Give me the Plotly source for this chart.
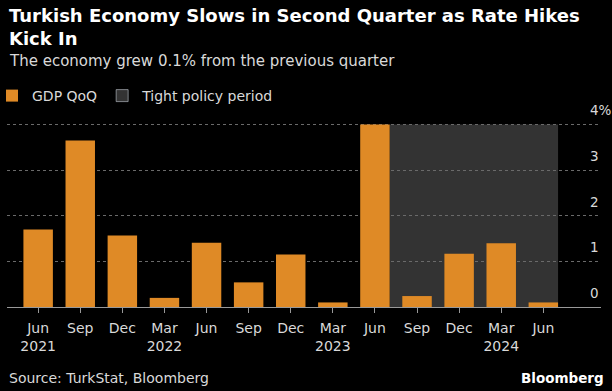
import plotly.graph_objects as go

quarters = ["Jun<br>2021", "Sep", "Dec", "Mar<br>2022", "Jun", "Sep", "Dec",
            "Mar<br>2023", "Jun", "Sep", "Dec", "Mar<br>2024", "Jun"]
gdp_qoq = [1.7, 3.65, 1.57, 0.2, 1.41, 0.54, 1.15, 0.1, 4.0, 0.24, 1.17, 1.4, 0.1]
tight_start_idx = 8.35
tight_end_idx = 12.35
y_ticks = [0, 1, 2, 3, 4]
y_ticktext = ["0", "1", "2", "3", "4%"]

W, H = 612, 391
ML, MR, MT, MB = 7, 11, 120, 84
PH = H - MT - MB
PW = W - ML - MR

def py(p):
    return (H - MB - p) / PH

def px(p):
    return (p - ML) / PW

FONT = "DejaVu Sans"
ORANGE = "#DF8A26"
GRAY_SHADE = "#333333"
TXT = "#d9d9d9"

x = list(range(len(quarters)))

fig = go.Figure()
fig.add_trace(go.Bar(x=x, y=gdp_qoq, name="GDP QoQ", marker=dict(color=ORANGE, line=dict(width=0)),
                     width=0.7))
fig.add_trace(go.Bar(x=[None], y=[None], name="Tight policy period",
                     marker=dict(color=GRAY_SHADE)))

fig.add_shape(type="rect", xref="x", yref="y", x0=tight_start_idx, x1=tight_end_idx,
              y0=0, y1=4, fillcolor=GRAY_SHADE, line=dict(width=0), layer="below")

fig.update_layout(
    width=W, height=H,
    paper_bgcolor="black", plot_bgcolor="black",
    margin=dict(l=ML, r=MR, t=MT, b=MB, autoexpand=False),
    font=dict(family=FONT, color=TXT, size=13),
    showlegend=True,
    legend=dict(orientation="h", x=px(-8), y=py(80), xanchor="left", yanchor="top",
                font=dict(size=14, color=TXT), bgcolor="rgba(0,0,0,0)",
                itemwidth=30, traceorder="normal"),
    bargap=0.3,
    xaxis=dict(range=[-0.74, 13.37], tickmode="array", tickvals=x, ticktext=quarters,
               showgrid=False, zeroline=False, showline=True, linecolor="#999999", linewidth=1,
               ticks="outside", ticklen=5, tickcolor="#999999", tickwidth=1, automargin=False,
               ticklabelstandoff=3,
               tickfont=dict(size=14, color=TXT), fixedrange=True),
    yaxis=dict(range=[0, 4.1], side="right", tickmode="array", tickvals=y_ticks,
               ticktext=y_ticktext, showgrid=True, gridcolor="#6a6a6a", griddash="dot",
               gridwidth=1, zeroline=False, showline=False, ticks="", automargin=False,
               ticklabelposition="outside", ticklabelstandoff=-12, ticklabelshift=-14,
               tickfont=dict(size=13.5, color=TXT), fixedrange=True),
)

fig.add_annotation(text="<b>Turkish Economy Slows in Second Quarter as Rate Hikes<br>Kick In</b>",
                   xref="paper", yref="paper", x=px(7), y=py(3), xanchor="left", yanchor="top",
                   align="left", showarrow=False, font=dict(size=18, color="white", family=FONT))
fig.add_annotation(text="The economy grew 0.1% from the previous quarter",
                   xref="paper", yref="paper", x=px(7), y=py(50), xanchor="left", yanchor="top",
                   align="left", showarrow=False, font=dict(size=15, color=TXT, family=FONT))
fig.add_annotation(text="Source: TurkStat, Bloomberg",
                   xref="paper", yref="paper", x=px(7), y=py(368), xanchor="left", yanchor="top",
                   align="left", showarrow=False, font=dict(size=14, color=TXT, family=FONT))
fig.add_annotation(text="<b>Bloomberg</b>",
                   xref="paper", yref="paper", x=px(606), y=py(368), xanchor="right", yanchor="top",
                   align="right", showarrow=False, font=dict(size=13.5, color="white", family=FONT))

fig.write_html("out.html", config={"displayModeBar": False},
               post_script="document.body.style.margin='0';document.body.style.overflow='hidden';")
